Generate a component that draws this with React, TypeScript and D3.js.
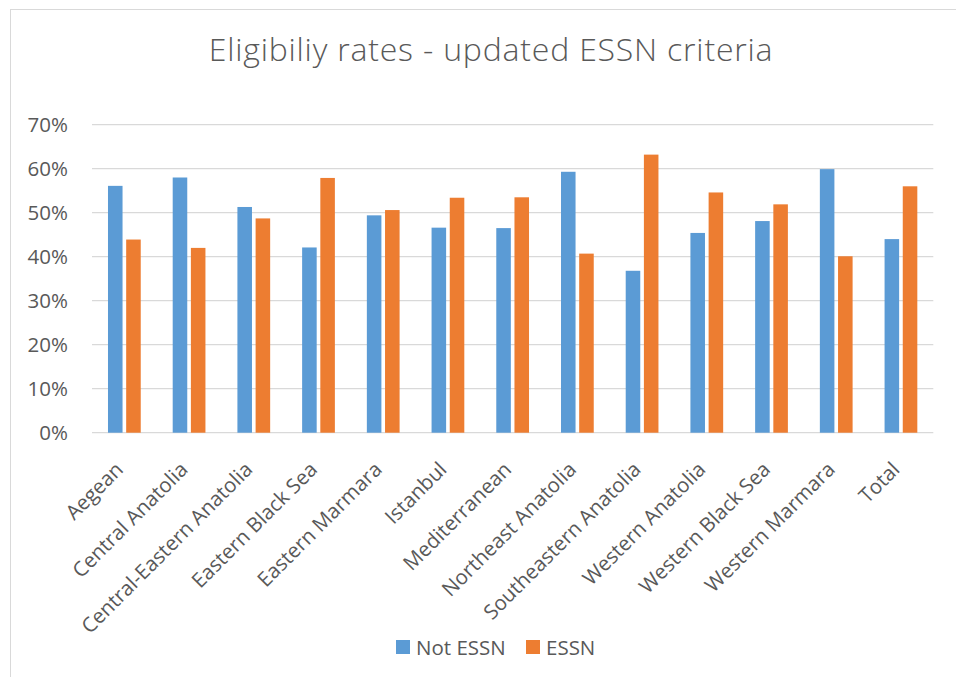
import React from "react";
import * as d3 from "d3";

const categories = [
  "Aegean",
  "Central Anatolia",
  "Central-Eastern Anatolia",
  "Eastern Black Sea",
  "Eastern Marmara",
  "Istanbul",
  "Mediterranean",
  "Northeast Anatolia",
  "Southeastern Anatolia",
  "Western Anatolia",
  "Western Black Sea",
  "Western Marmara",
  "Total",
];
const notEssn = [0.561, 0.58, 0.513, 0.421, 0.494, 0.466, 0.465, 0.593, 0.368, 0.454, 0.481, 0.599, 0.44];
const essn = [0.439, 0.42, 0.487, 0.579, 0.506, 0.534, 0.535, 0.407, 0.632, 0.546, 0.519, 0.401, 0.56];
const seriesNames = ["Not ESSN", "ESSN"];
const seriesColors = ["#5B9BD5", "#ED7D31"];
const yTicks = [0, 0.1, 0.2, 0.3, 0.4, 0.5, 0.6, 0.7];
const title = "Eligibiliy rates - updated ESSN criteria";

const W = 956;
const H = 677;
const FONT = "'Open Sans', sans-serif";
const TEXT = "#595959";
const FS = 20.5;

export default function App() {
  const left = 92;
  const right = 933.3;
  const top = 124.7;
  const bottom = 432.7;
  const y = d3.scaleLinear().domain([0, 0.7]).range([bottom, top]);
  const x0 = d3.scaleBand<string>().domain(categories).range([left, right]).padding(0);
  const bw = x0.bandwidth();
  const x1 = d3
    .scaleBand<string>()
    .domain(seriesNames)
    .range([bw * 0.247, bw * 0.753])
    .paddingInner(0.2);
  const values = [notEssn, essn];
  const fmt = d3.format(".0%");

  return (
    <svg
      width={W}
      height={H}
      style={{ position: "absolute", left: 0, top: 0, background: "#fff" }}
      fontFamily={FONT}
    >
      <rect x={0} y={0} width={W} height={H} fill="#fff" />
      <rect x={10.5} y={9.5} width={W + 20} height={H + 20} fill="none" stroke="#d9d9d9" strokeWidth={1} />
      <text x={491} y={61} textAnchor="middle" fontSize={32} letterSpacing={0.8} fill={TEXT} fontWeight={300}>
        {title}
      </text>
      {yTicks.map((t) => (
        <g key={t}>
          <line x1={left} x2={right} y1={y(t)} y2={y(t)} stroke="#d9d9d9" strokeWidth={1.3} />
          <text x={68} y={y(t)} dy="0.35em" textAnchor="end" fontSize={FS} fill={TEXT}>
            {fmt(t)}
          </text>
        </g>
      ))}
      {categories.map((c, i) => (
        <g key={c} transform={`translate(${x0(c)},0)`}>
          {seriesNames.map((s, j) => (
            <rect
              key={s}
              x={x1(s)}
              width={x1.bandwidth()}
              y={y(values[j][i])}
              height={bottom - y(values[j][i])}
              fill={seriesColors[j]}
            />
          ))}
          <text
            transform={`translate(${bw / 2 - 5},${bottom + 33}) rotate(-45)`}
            textAnchor="end"
            dy="0.35em"
            fontSize={FS}
            fill={TEXT}
          >
            {c}
          </text>
        </g>
      ))}
      <g>
        <rect x={396} y={640} width={14} height={14} fill={seriesColors[0]} />
        <text x={416} y={654.5} fontSize={FS} fill={TEXT}>
          {seriesNames[0]}
        </text>
        <rect x={526} y={640} width={14} height={14} fill={seriesColors[1]} />
        <text x={546} y={654.5} fontSize={FS} fill={TEXT}>
          {seriesNames[1]}
        </text>
      </g>
    </svg>
  );
}
